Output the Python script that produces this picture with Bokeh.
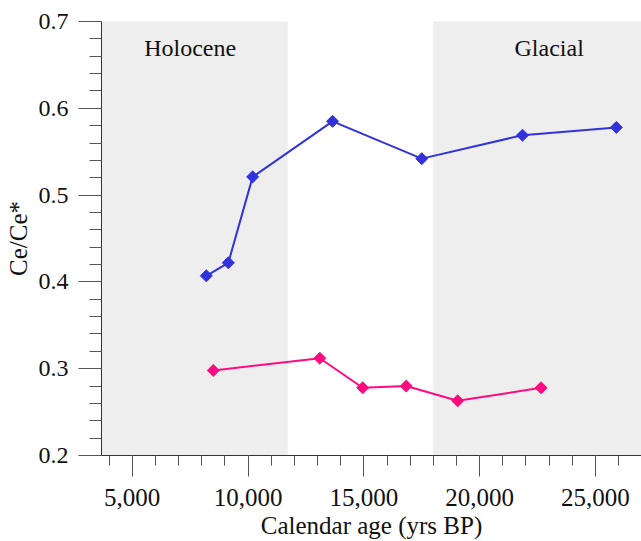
import numpy as np
from bokeh.plotting import figure
from bokeh.models import (Range1d, FixedTicker, NumeralTickFormatter, BoxAnnotation, Label)
from bokeh.embed import file_html
from bokeh.resources import INLINE

# Data
blue_age = [8200, 9150, 10200, 13650, 17500, 21850, 25900]
blue_ce = [0.407, 0.422, 0.521, 0.585, 0.542, 0.569, 0.578]
pink_age = [8500, 13100, 14950, 16830, 19050, 22650]
pink_ce = [0.298, 0.312, 0.278, 0.280, 0.263, 0.278]

holocene_end = 11700
glacial_start = 18000
period_names = ["Holocene", "Glacial"]
period_label_x = [7500, 23000]

x_major = [5000, 10000, 15000, 20000, 25000]
x_minor = list(range(4000, 27000, 1000))
y_major = [0.2, 0.3, 0.4, 0.5, 0.6, 0.7]
y_minor = [round(0.2 + 0.02 * i, 2) for i in range(26)]

FONT = "Liberation Serif"
BLUE = "#3232dc"
PINK = "#ff0a80"

p = figure(width=641, height=541, output_backend="svg", toolbar_location=None,
           x_range=Range1d(3675, 26986), y_range=Range1d(0.2, 0.7),
           min_border_left=101, min_border_right=0, min_border_top=21, min_border_bottom=85)
p.outline_line_color = None
p.xgrid.grid_line_color = None
p.ygrid.grid_line_color = None

# shaded periods
p.add_layout(BoxAnnotation(right=holocene_end, fill_color="#eeeeee", fill_alpha=1.0,
                           line_color="#dddddd", line_width=1, level="underlay"))
p.add_layout(BoxAnnotation(left=glacial_start, fill_color="#eeeeee", fill_alpha=1.0,
                           line_color="#dddddd", line_width=1, level="underlay"))

for name, xl in zip(period_names, period_label_x):
    p.add_layout(Label(x=xl, y=0.669, text=name, text_align="center",
                       text_baseline="alphabetic", text_font=FONT,
                       text_font_size="24px", text_color="#111111"))

p.line(blue_age, blue_ce, line_color=BLUE, line_width=2)
p.scatter(blue_age, blue_ce, marker="square", angle=np.pi / 4, size=8.5,
          fill_color=BLUE, line_color=BLUE)
p.line(pink_age, pink_ce, line_color=PINK, line_width=2)
p.scatter(pink_age, pink_ce, marker="square", angle=np.pi / 4, size=8.5,
          fill_color=PINK, line_color=PINK)

# axes
p.xaxis.ticker = FixedTicker(ticks=x_major, minor_ticks=x_minor)
p.yaxis.ticker = FixedTicker(ticks=y_major, minor_ticks=y_minor)
p.xaxis.formatter = NumeralTickFormatter(format="0,0")
p.yaxis.formatter = NumeralTickFormatter(format="0.0")
p.xaxis.axis_label = "Calendar age (yrs BP)"
p.yaxis.axis_label = "Ce/Ce*"

for ax in (p.xaxis[0], p.yaxis[0]):
    ax.axis_line_color = "#333333"
    ax.major_tick_line_color = "#555555"
    ax.minor_tick_line_color = "#555555"
    ax.major_tick_in = 0
    ax.minor_tick_in = 0
    ax.major_label_text_font = FONT
    ax.major_label_text_color = "#111111"
    ax.axis_label_text_font = FONT
    ax.axis_label_text_font_size = "25px"
    ax.axis_label_text_font_style = "normal"
    ax.axis_label_text_color = "#111111"

p.yaxis.major_label_text_font_size = "24px"
p.xaxis.major_label_text_font_size = "25px"
p.yaxis.major_label_standoff = 10
p.yaxis.axis_label_standoff = 4
p.xaxis.major_label_standoff = 12
p.xaxis.axis_label_standoff = 3

p.yaxis.major_tick_out = 23
p.yaxis.minor_tick_out = 12
p.xaxis.major_tick_out = 21
p.xaxis.minor_tick_out = 10

open("out.html", "w").write(file_html(p, INLINE))
